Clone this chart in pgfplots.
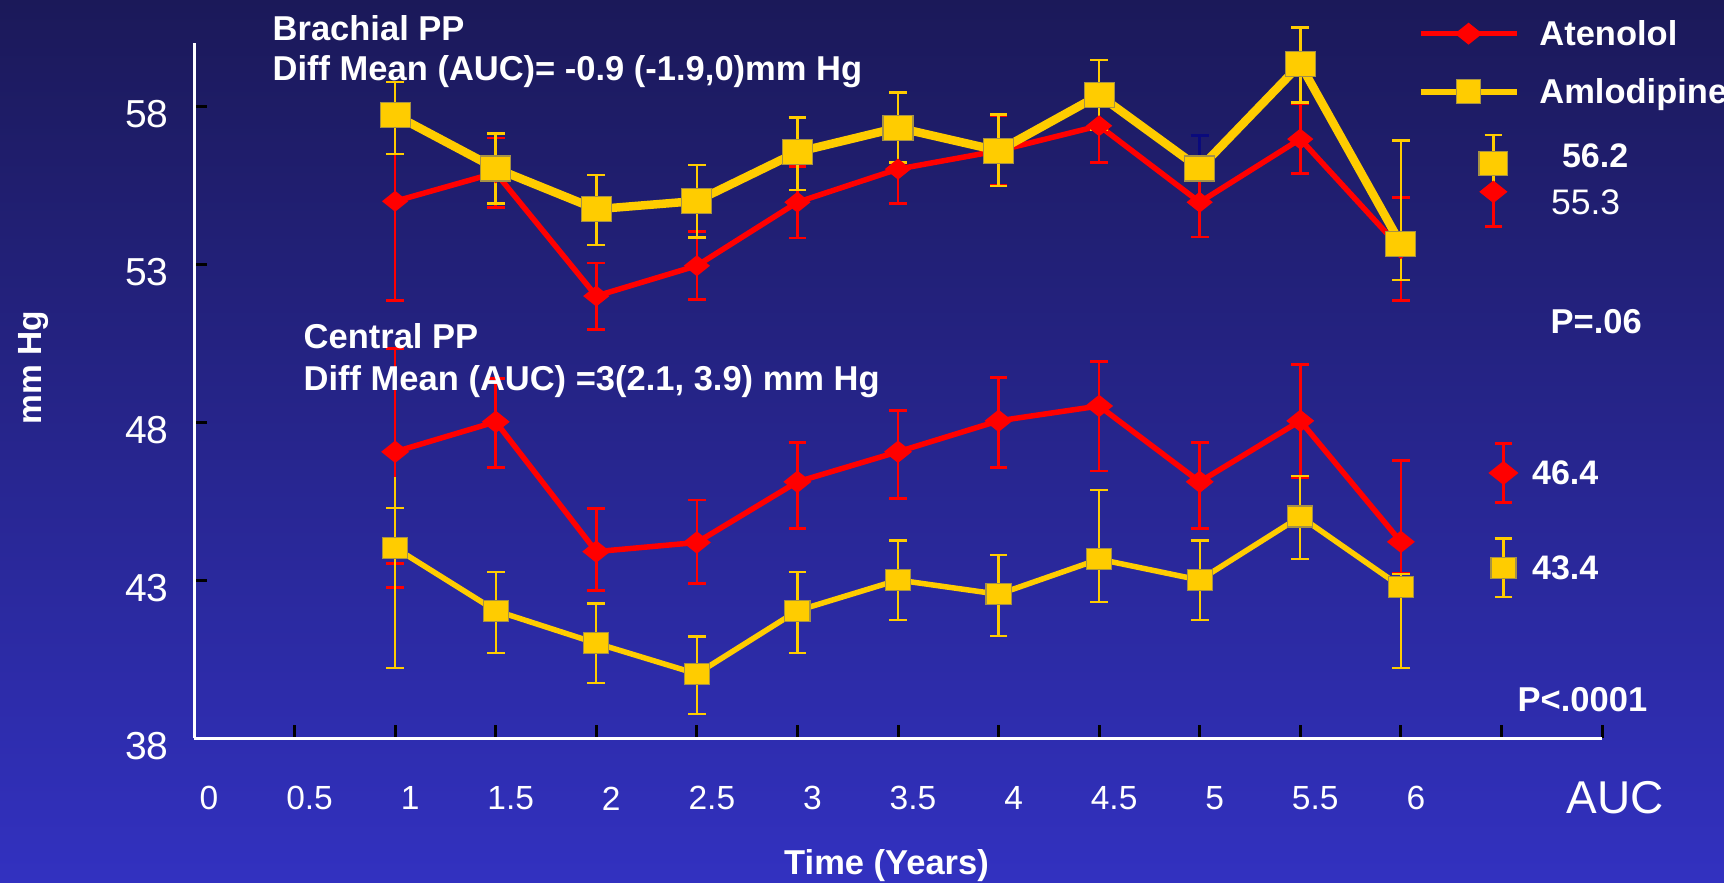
\documentclass[border=0pt]{standalone}
\usepackage{pgfplots}
\pgfplotsset{compat=1.18}
\usepackage{pgfplotstable}
\usepackage{fontspec}
\setmainfont{Liberation Sans}

\definecolor{bgtop}{RGB}{27,25,89}
\definecolor{bgbot}{RGB}{50,49,192}
\definecolor{atered}{RGB}{255,0,0}
\definecolor{amlyel}{RGB}{255,204,0}
\definecolor{amledge}{RGB}{165,145,70}
\definecolor{barnavy}{RGB}{10,10,125}

% wide filled diamond and wide filled square (no outline stroke for the diamond)
\pgfdeclareplotmark{wdiamond}{%
  \pgfpathmoveto{\pgfqpoint{0pt}{\pgfplotmarksize}}%
  \pgfpathlineto{\pgfqpoint{1.25\pgfplotmarksize}{0pt}}%
  \pgfpathlineto{\pgfqpoint{0pt}{-\pgfplotmarksize}}%
  \pgfpathlineto{\pgfqpoint{-1.25\pgfplotmarksize}{0pt}}%
  \pgfpathclose
  \pgfusepathqfill
}
\pgfdeclareplotmark{wsquare}{%
  \pgfpathrectangle{\pgfqpoint{-1.2\pgfplotmarksize}{-\pgfplotmarksize}}{\pgfqpoint{2.4\pgfplotmarksize}{2\pgfplotmarksize}}%
  \pgfusepathqfill
  \begin{pgfscope}%
  \pgfsetlinewidth{0.12mm}\pgfsetstrokecolor{amledge}%
  \pgfpathrectangle{\pgfqpoint{-1.2\pgfplotmarksize}{-\pgfplotmarksize}}{\pgfqpoint{2.4\pgfplotmarksize}{2\pgfplotmarksize}}%
  \pgfusepathqstroke
  \end{pgfscope}%
}
\pgfdeclareplotmark{lsquare}{%
  \pgfpathrectangle{\pgfqpoint{-\pgfplotmarksize}{-\pgfplotmarksize}}{\pgfqpoint{2\pgfplotmarksize}{2\pgfplotmarksize}}%
  \pgfusepathqfill
  \begin{pgfscope}%
  \pgfsetlinewidth{0.12mm}\pgfsetstrokecolor{amledge}%
  \pgfpathrectangle{\pgfqpoint{-\pgfplotmarksize}{-\pgfplotmarksize}}{\pgfqpoint{2\pgfplotmarksize}{2\pgfplotmarksize}}%
  \pgfusepathqstroke
  \end{pgfscope}%
}

% Brachial PP (mm Hg): year, mean, upper and lower error
\pgfplotstableread{
x    y      ep    em
1    55.00  3.10  3.15
1.5  55.90  1.10  1.10
2    52.00  1.05  1.05
2.5  52.96  1.08  1.08
3    54.97  1.13  1.13
3.5  56.02  1.10  1.10
4    56.60  1.10  1.10
4.5  57.39  1.16  1.16
5    54.97  1.10  1.10
5.5  56.97  1.12  1.10
6    53.50  1.63  1.63
}\brachAte

\pgfplotstableread{
x    y      ep    em
1    57.73  1.05  1.23
1.5  56.04  1.10  1.10
2    54.75  1.08  1.13
2.5  55.01  1.14  1.15
3    56.56  1.10  1.20
3.5  57.33  1.12  1.10
4    56.60  1.14  1.12
4.5  58.36  1.11  1.10
5    56.04  0.00  0.00
5.5  59.34  1.17  1.21
6    53.65  3.28  1.14
}\brachAml

% Central PP (mm Hg)
\pgfplotstableread{
x    y      ep    em
1    47.07  3.28  3.53
1.5  48.02  1.38  1.45
2    43.91  1.37  1.22
2.5  44.20  1.34  1.30
3    46.12  1.24  1.47
3.5  47.07  1.30  1.47
4    48.05  1.37  1.48
4.5  48.52  1.40  2.06
5    46.12  1.24  1.47
5.5  48.05  1.79  1.79
6    44.22  2.57  1.00
}\centAte

\pgfplotstableread{
x    y      ep    em
1    44.03  1.25  3.81
1.5  42.04  1.23  1.35
2    41.01  1.26  1.27
2.5  40.04  1.18  1.27
3    42.04  1.23  1.33
3.5  43.01  1.25  1.27
4    42.56  1.24  1.32
4.5  43.67  2.19  1.35
5    43.01  1.25  1.27
5.5  45.02  1.29  1.35
6    42.80  0.40  2.58
}\centAml

\begin{document}
\begin{tikzpicture}
\shade[top color=bgtop, bottom color=bgbot] (0,0) rectangle (172.4mm,88.2mm);
\begin{axis}[
  at={(19.4mm,14.37mm)}, anchor=south west,
  x=20.114mm, y=3.159mm,
  xmin=0, xmax=7, ymin=38, ymax=60,
  axis lines*=left,
  axis line style={white, line width=0.3mm, -},
  tick align=inside,
  major tick length=1.3mm,
  tick style={black, line width=0.3mm},
  xtick={0,0.5,1,1.5,2,2.5,3,3.5,4,4.5,5,5.5,6,6.5,7},
  xticklabels={0,0.5,1,1.5,2,2.5,3,3.5,4,4.5,5,5.5,6,{},{}},
  ytick={38,43,48,53,58},
  /pgf/number format/assume math mode=true,
  xticklabel style={anchor=center, xshift=1.5mm, yshift=-6mm, text=white, inner sep=0pt,
    font=\fontsize{3.35mm}{4mm}\selectfont},
  yticklabel style={anchor=center, xshift=-4.7mm, yshift=-0.8mm, text=white, inner sep=0pt,
    font=\fontsize{3.9mm}{4.5mm}\selectfont},
  clip=false,
  legend style={at={(0.8686,1.0325)}, anchor=north west, draw=none, fill=none,
    text=white, inner sep=0pt, row sep=3.35mm, column sep=2mm,
    font=\bfseries\fontsize{3.45mm}{4mm}\selectfont,
    nodes={inner sep=0pt, text height=2.45mm, text depth=0pt}},
  legend cell align=left,
  legend image code/.code={\draw[mark repeat=2, mark phase=2, #1]
    plot coordinates {(0mm,0mm) (4.8mm,0mm) (9.6mm,0mm)};},
  error bars/y dir=both,
  error bars/y explicit,
  error bars/error mark options={rotate=90, mark size=0.88mm, line width=0.27mm},
  error bars/error bar style={line width=0.27mm},
]
\addlegendimage{atered, line width=0.55mm, mark=wdiamond, mark size=1.1mm}
\addlegendentry{Atenolol}
\addlegendimage{amlyel, line width=0.57mm, mark=lsquare, mark size=1.2mm}
\addlegendentry{Amlodipine}

% brachial
\addplot[forget plot, atered, line width=0.55mm, mark=wdiamond, mark size=1.05mm]
  table[x=x, y=y, y error plus=ep, y error minus=em] {\brachAte};
\addplot[forget plot, barnavy, mark=none, error bars/y dir=plus, error bars/y fixed=1.04]
  coordinates {(5,56.04)};
\addplot[forget plot, amlyel, line width=0.85mm, mark=wsquare, mark size=1.25mm]
  table[x=x, y=y, y error plus=ep, y error minus=em] {\brachAml};

% central
\addplot[forget plot, atered, mark=none, error bars/y dir=minus, error bars/y fixed=4.29]
  coordinates {(1,47.07)};
\addplot[forget plot, atered, line width=0.55mm, mark=wdiamond, mark size=1.12mm]
  table[x=x, y=y, y error plus=ep, y error minus=em] {\centAte};
\addplot[forget plot, amlyel, mark=none, error bars/y dir=plus, error bars/y fixed=2.25,
  error bars/error mark=none, error bars/error bar style={line width=0.22mm}]
  coordinates {(1,44.03)};
\addplot[forget plot, amlyel, line width=0.55mm, mark=wsquare, mark size=1.05mm,
  error bars/error bar style={line width=0.22mm},
  error bars/error mark options={rotate=90, mark size=0.88mm, line width=0.22mm}]
  table[x=x, y=y, y error plus=ep, y error minus=em] {\centAml};

% AUC means
\addplot[forget plot, atered, only marks, mark=wdiamond, mark size=1.13mm,
  error bars/y dir=both, error bars/y fixed=1.1]
  coordinates {(6.46,55.3)};
\addplot[forget plot, amlyel, only marks, mark=wsquare, mark size=1.2mm,
  error bars/y dir=both, error bars/y fixed=0.9]
  coordinates {(6.46,56.2)};
\addplot[forget plot, atered, only marks, mark=wdiamond, mark size=1.2mm,
  error bars/y dir=both, error bars/y fixed=0.93]
  coordinates {(6.51,46.4)};
\addplot[forget plot, amlyel, only marks, mark=wsquare, mark size=1.04mm,
  error bars/y dir=both, error bars/y fixed=0.93]
  coordinates {(6.51,43.4)};

\node[anchor=west, inner sep=0pt, text=white, xshift=5.7mm, yshift=-1.0mm,
  font=\fontsize{3.55mm}{4mm}\selectfont] at (axis cs:6.46,55.3) {55.3};
\node[anchor=west, inner sep=0pt, text=white, xshift=6.8mm, yshift=0.8mm,
  font=\bfseries\fontsize{3.4mm}{4mm}\selectfont] at (axis cs:6.46,56.2) {56.2};
\node[anchor=west, inner sep=0pt, text=white, xshift=2.8mm,
  font=\bfseries\fontsize{3.4mm}{4mm}\selectfont] at (axis cs:6.51,46.4) {46.4};
\node[anchor=west, inner sep=0pt, text=white, xshift=2.8mm,
  font=\bfseries\fontsize{3.4mm}{4mm}\selectfont] at (axis cs:6.51,43.4) {43.4};
\end{axis}

\begin{scope}[every node/.style={inner sep=0pt, text=white}]
\node[anchor=base west, font=\bfseries\fontsize{3.45mm}{4mm}\selectfont] at (27.2mm,84.2mm) {Brachial PP};
\node[anchor=base west, font=\bfseries\fontsize{3.45mm}{4mm}\selectfont] at (27.2mm,80.2mm) {Diff Mean (AUC)= -0.9 (-1.9,0)mm Hg};
\node[anchor=base west, font=\bfseries\fontsize{3.45mm}{4mm}\selectfont] at (30.3mm,53.37mm) {Central PP};
\node[anchor=base west, font=\bfseries\fontsize{3.45mm}{4mm}\selectfont] at (30.3mm,49.13mm) {Diff Mean (AUC) =3(2.1, 3.9) mm Hg};
\node[anchor=base west, font=\bfseries\fontsize{3.45mm}{4mm}\selectfont] at (155mm,54.9mm) {P=.06};
\node[anchor=base west, font=\bfseries\fontsize{3.45mm}{4mm}\selectfont] at (151.7mm,17.03mm) {P<.0001};
\node[anchor=base, font=\fontsize{4.6mm}{5mm}\selectfont] at (161.5mm,6.87mm) {AUC};
\node[anchor=base, font=\bfseries\fontsize{3.45mm}{4mm}\selectfont] at (88.65mm,0.75mm) {Time (Years)};
\node[anchor=base, rotate=90, font=\bfseries\fontsize{3.35mm}{4mm}\selectfont] at (4.1mm,51.45mm) {mm Hg};
\end{scope}

\pgfresetboundingbox
\useasboundingbox (0,0) rectangle (172.4mm,88.2mm);
\end{tikzpicture}
\end{document}
